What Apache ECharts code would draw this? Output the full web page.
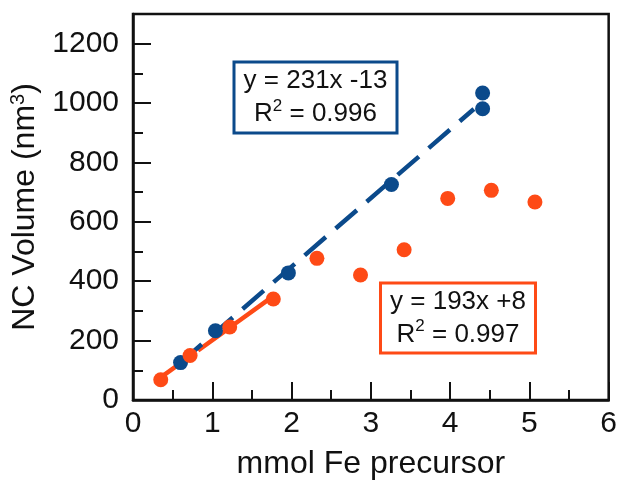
<!DOCTYPE html>
<html>
<head>
<meta charset="utf-8">
<script src="https://cdn.jsdelivr.net/npm/echarts@6/dist/echarts.min.js"></script>
<style>
html,body{margin:0;padding:0;background:#fff;}
#mychart{width:620px;height:485px;}
</style>
</head>
<body>
<div id="mychart"></div>
<script>
// 数据
var blueX = [0.60, 1.04, 1.96, 3.26, 4.41, 4.41];
var blueY = [126, 233, 428, 726, 981, 1034];
var orangeX = [0.35, 0.72, 1.22, 1.77, 2.32, 2.87, 3.42, 3.97, 4.52, 5.07];
var orangeY = [68, 150, 246, 340, 477, 421, 506, 679, 706, 667];
// 拟合线端点
var blueFitX = [0.6, 4.3];
var blueFitY = [126, 980];
var orangeFitX = [0.35, 1.77];
var orangeFitY = [76, 350];
var blueText = ['y = 231x -13', 'R{sup|2} = 0.996'];
var orangeText = ['y = 193x +8', 'R{sup|2} = 0.997'];

var blue = '#0b4a8b';
var orange = '#fe4a16';
var font = 'Liberation Sans';

function pairs(xs, ys) {
    return xs.map(function (v, i) { return [v, ys[i]]; });
}

var myChart = echarts.init(document.getElementById('mychart'));

//文本框
function textBox(lines, color, cx, cy, w, h) {
    return {
        type: 'group',
        children: [
            {
                type: 'rect',
                shape: { x: cx - w / 2, y: cy - h / 2, width: w, height: h },
                style: { fill: '#fff', stroke: color, lineWidth: 3 }
            },
            {
                type: 'text',
                x: cx,
                y: cy,
                style: {
                    text: lines.join('\n'),
                    fontFamily: font,
                    fontSize: 26,
                    lineHeight: 33,
                    fill: '#111',
                    align: 'center',
                    verticalAlign: 'middle',
                    rich: {
                        sup: { fontSize: 17, lineHeight: 33, verticalAlign: 'top', fontFamily: font, fill: '#111' }
                    }
                }
            }
        ]
    };
}

myChart.setOption({
    animation: false,
    grid: {
        left: 133,
        right: 10,
        top: 14,
        bottom: 83,
        show: true,
        borderColor: '#111',
        borderWidth: 2.5
    },
    xAxis: {
        type: 'value',
        min: 0,
        max: 6,
        interval: 1,
        name: 'mmol Fe precursor',
        nameLocation: 'middle',
        nameGap: 48,
        nameTextStyle: { fontFamily: font, fontSize: 32, color: '#111' },
        axisLine: { lineStyle: { color: '#111', width: 2.5 } },
        axisTick: { inside: true, length: 18, lineStyle: { color: '#111', width: 2 } },
        minorTick: { show: true, splitNumber: 2, length: 10, lineStyle: { color: '#111', width: 2 } },
        axisLabel: { fontFamily: font, fontSize: 30, color: '#111', margin: 9 },
        splitLine: { show: false }
    },
    yAxis: [
        {
            type: 'value',
            min: 0,
            max: 1300,
            interval: 200,
            name: 'NC Volume (nm{sup|3})',
            nameLocation: 'middle',
            nameGap: 91,
            nameTextStyle: {
                fontFamily: font, fontSize: 32, color: '#111',
                rich: { sup: { fontFamily: font, fontSize: 20, color: '#111', verticalAlign: 'top', lineHeight: 34 } }
            },
            axisLine: { lineStyle: { color: '#111', width: 2.5 } },
            axisTick: { inside: true, length: 18, lineStyle: { color: '#111', width: 2 } },
            axisLabel: {
                fontFamily: font, fontSize: 30, color: '#111', margin: 14,
                formatter: function (v) { return v > 1200 ? '' : v; }
            },
            splitLine: { show: false }
        },
        {
            type: 'value',
            position: 'left',
            min: 0,
            max: 1300,
            interval: 100,
            axisLine: { show: false },
            axisTick: { inside: true, length: 10, lineStyle: { color: '#111', width: 2 } },
            axisLabel: { show: false },
            splitLine: { show: false }
        }
    ],
    series: [
        {
            name: 'orangeFit',
            type: 'line',
            data: pairs(orangeFitX, orangeFitY),
            symbol: 'none',
            z: 1,
            lineStyle: { color: orange, width: 4.5, type: [40, 6] }
        },
        {
            name: 'blueFit',
            type: 'line',
            data: pairs(blueFitX, blueFitY),
            symbol: 'none',
            z: 2,
            lineStyle: { color: blue, width: 4.5, type: [28, 13] }
        },
        {
            name: 'blue',
            type: 'scatter',
            data: pairs(blueX, blueY),
            symbolSize: 15,
            z: 3,
            itemStyle: { color: blue, opacity: 1 }
        },
        {
            name: 'orange',
            type: 'scatter',
            data: pairs(orangeX, orangeY),
            symbolSize: 15,
            z: 4,
            itemStyle: { color: orange, opacity: 1 }
        }
    ],
    graphic: [
        textBox(blueText, blue, 315.5, 97.5, 163, 71),
        textBox(orangeText, orange, 458, 318, 155, 70)
    ]
});
</script>
</body>
</html>
